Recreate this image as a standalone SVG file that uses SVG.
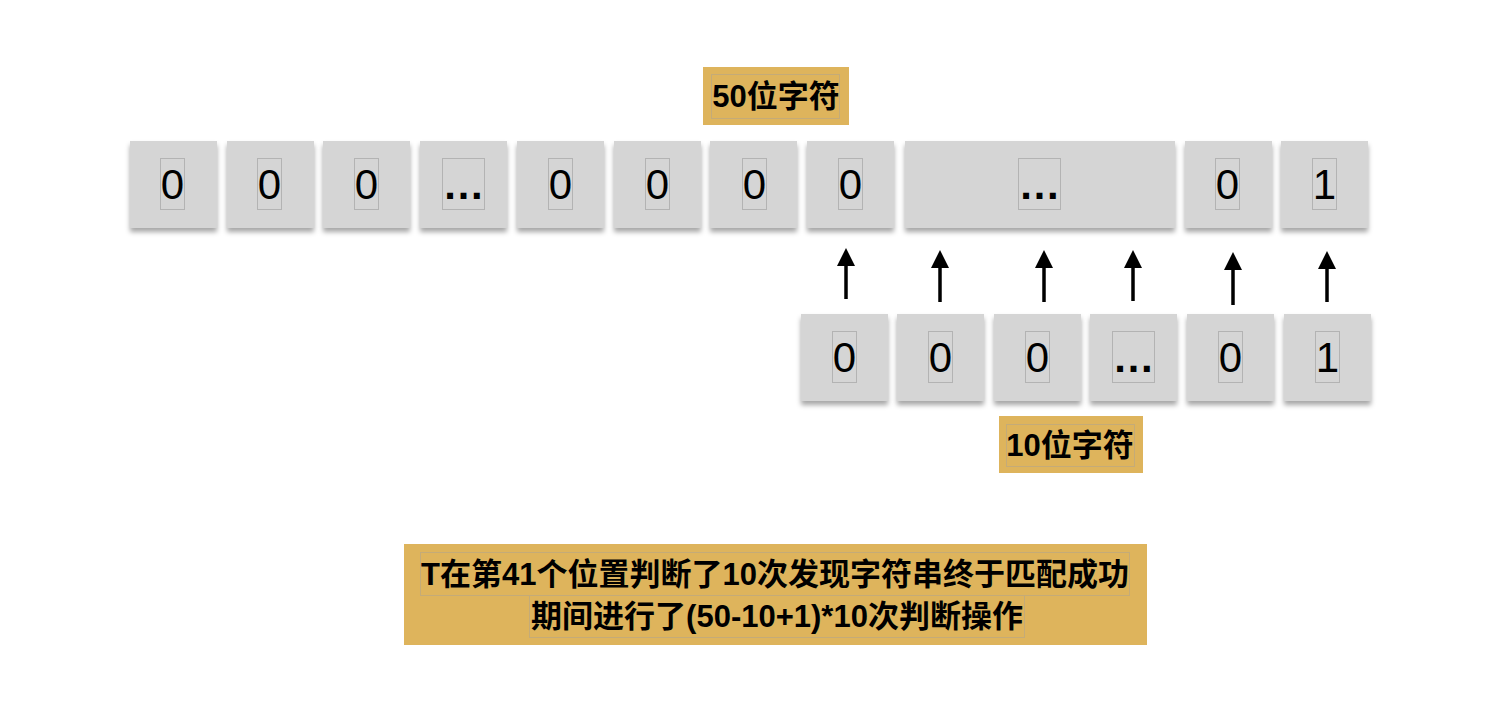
<svg xmlns="http://www.w3.org/2000/svg" width="1510" height="710" viewBox="0 0 1510 710">
<defs>
<filter id="sh" x="-20%" y="-20%" width="140%" height="150%">
<feDropShadow dx="0" dy="4" stdDeviation="2.5" flood-color="#000" flood-opacity="0.35"/>
</filter>
<marker id="ah" viewBox="0 0 18 18" markerWidth="18" markerHeight="18" refX="0" refY="9" orient="auto" markerUnits="userSpaceOnUse">
<path d="M0,0 L18,9 L0,18 z" fill="#000"/>
</marker>
</defs>
<style>
.box{fill:#d5d5d5;filter:url(#sh)}
.in{fill:none;stroke:#b3b3b3;stroke-width:1}
.inl{fill:none;stroke:#c4ab78;stroke-width:1}
.d{font-family:"Liberation Sans","Noto Sans CJK SC",sans-serif;font-size:42px;fill:#000;text-anchor:middle}
.e{font-weight:bold}
.lab{fill:#deb45c}
.t{font-family:"Liberation Sans","Noto Sans CJK SC",sans-serif;font-size:31px;font-weight:bold;fill:#000;text-anchor:middle}
.arr{stroke:#000;stroke-width:3.5;fill:none;marker-end:url(#ah)}
</style>
<rect width="1510" height="710" fill="#fff"/>

<g id="label50">
<rect class="lab" x="703" y="67" width="146" height="58"/>
<rect class="inl" x="711.5" y="74.5" width="128" height="44"/>
<text class="t" x="776" y="107">50位字符</text>
</g>

<g id="t1"><rect class="box" x="130" y="141" width="87" height="87"/><rect class="in" x="160.5" y="158.5" width="24" height="51"/><text class="d" x="172.5" y="199">0</text></g>
<g id="t2"><rect class="box" x="227" y="141" width="87" height="87"/><rect class="in" x="257.5" y="158.5" width="24" height="51"/><text class="d" x="269.5" y="199">0</text></g>
<g id="t3"><rect class="box" x="323" y="141" width="87" height="87"/><rect class="in" x="354.5" y="158.5" width="24" height="51"/><text class="d" x="366.5" y="199">0</text></g>
<g id="t4"><rect class="box" x="420" y="141" width="87" height="87"/><rect class="in" x="442.5" y="158.5" width="42" height="51"/><text class="d e" x="463.5" y="199">…</text></g>
<g id="t5"><rect class="box" x="517" y="141" width="87" height="87"/><rect class="in" x="548.5" y="158.5" width="24" height="51"/><text class="d" x="560.5" y="199">0</text></g>
<g id="t6"><rect class="box" x="614" y="141" width="87" height="87"/><rect class="in" x="645.5" y="158.5" width="24" height="51"/><text class="d" x="657.5" y="199">0</text></g>
<g id="t7"><rect class="box" x="710" y="141" width="87" height="87"/><rect class="in" x="742.5" y="158.5" width="24" height="51"/><text class="d" x="754.5" y="199">0</text></g>
<g id="t8"><rect class="box" x="807" y="141" width="87" height="87"/><rect class="in" x="838.5" y="158.5" width="24" height="51"/><text class="d" x="850.5" y="199">0</text></g>
<g id="t9"><rect class="box" x="905" y="141" width="270" height="87"/><rect class="in" x="1018.5" y="158.5" width="42" height="51"/><text class="d e" x="1039.5" y="199">…</text></g>
<g id="t10"><rect class="box" x="1185" y="141" width="87" height="87"/><rect class="in" x="1215.5" y="158.5" width="24" height="51"/><text class="d" x="1227.5" y="199">0</text></g>
<g id="t11"><rect class="box" x="1281" y="141" width="87" height="87"/><rect class="in" x="1312.5" y="158.5" width="24" height="51"/><text class="d" x="1324.5" y="199">1</text></g>

<g id="connectors">
<line class="arr" x1="846" y1="299" x2="846" y2="266"/>
<line class="arr" x1="940" y1="302" x2="940" y2="268"/>
<line class="arr" x1="1044" y1="302" x2="1044" y2="268"/>
<line class="arr" x1="1133" y1="301" x2="1133" y2="268"/>
<line class="arr" x1="1233" y1="305" x2="1233" y2="270"/>
<line class="arr" x1="1327" y1="302" x2="1327" y2="269"/>
</g>

<g id="p1"><rect class="box" x="801" y="314" width="87" height="87"/><rect class="in" x="832.5" y="331.5" width="24" height="51"/><text class="d" x="844.5" y="372">0</text></g>
<g id="p2"><rect class="box" x="897" y="314" width="87" height="87"/><rect class="in" x="928.5" y="331.5" width="24" height="51"/><text class="d" x="940.5" y="372">0</text></g>
<g id="p3"><rect class="box" x="994" y="314" width="87" height="87"/><rect class="in" x="1025.5" y="331.5" width="24" height="51"/><text class="d" x="1037.5" y="372">0</text></g>
<g id="p4"><rect class="box" x="1090" y="314" width="87" height="87"/><rect class="in" x="1112.5" y="331.5" width="42" height="51"/><text class="d e" x="1133.5" y="372">…</text></g>
<g id="p5"><rect class="box" x="1187" y="314" width="87" height="87"/><rect class="in" x="1218.5" y="331.5" width="24" height="51"/><text class="d" x="1230.5" y="372">0</text></g>
<g id="p6"><rect class="box" x="1284" y="314" width="87" height="87"/><rect class="in" x="1315.5" y="331.5" width="24" height="51"/><text class="d" x="1327.5" y="372">1</text></g>

<g id="label10">
<rect class="lab" x="999" y="416" width="144" height="57"/>
<rect class="inl" x="1006.5" y="424.5" width="128" height="42"/>
<text class="t" x="1070" y="456">10位字符</text>
</g>

<g id="note">
<rect class="lab" x="404" y="544" width="743" height="101"/>
<rect class="inl" x="420.5" y="552.5" width="709" height="43"/>
<rect class="inl" x="529.5" y="595.5" width="495" height="42"/>
<text class="t" x="775" y="585">T在第41个位置判断了10次发现字符串终于匹配成功</text>
<text class="t" x="777" y="627">期间进行了(50-10+1)*10次判断操作</text>
</g>
</svg>
